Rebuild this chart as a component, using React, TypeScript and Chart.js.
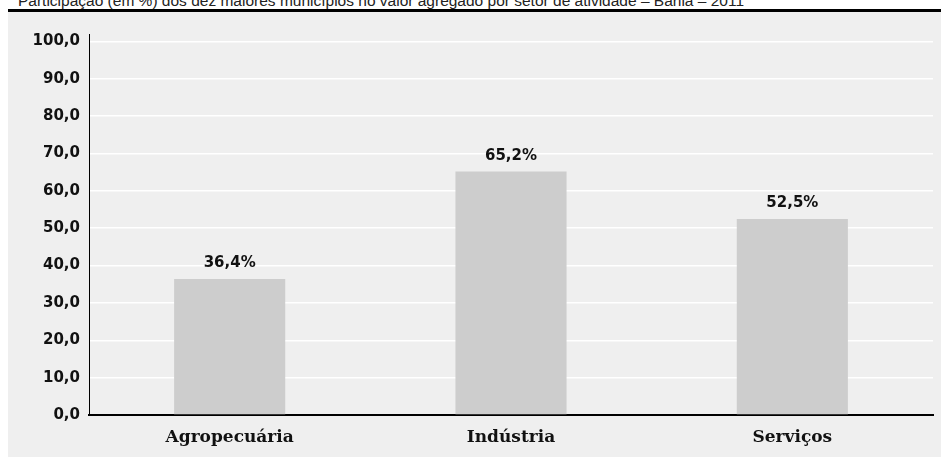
import React, { useEffect, useRef } from "react";
import { Chart, registerables } from "chart.js";

Chart.register(...registerables);

const titleText =
  "Participação (em %) dos dez maiores municípios no valor agregado por setor de atividade – Bahia – 2011";
const categories = ["Agropecuária", "Indústria", "Serviços"];
const values = [36.4, 65.2, 52.5];
const yTickValues = [0, 10, 20, 30, 40, 50, 60, 70, 80, 90, 100];

const fmt = (v: number) => v.toFixed(1).replace(".", ",");

const labelPlugin = {
  id: "barLabels",
  afterDatasetsDraw(chart: any) {
    const ctx = chart.ctx;
    const meta = chart.getDatasetMeta(0);
    ctx.save();
    ctx.font = "bold 15px 'DejaVu Sans'";
    ctx.fillStyle = "#111";
    ctx.textAlign = "center";
    ctx.textBaseline = "bottom";
    meta.data.forEach((bar: any, i: number) => {
      ctx.fillText(fmt(values[i]) + "%", bar.x, bar.y - 8);
    });
    ctx.restore();
  },
};

export default function App() {
  const ref = useRef<HTMLCanvasElement | null>(null);
  useEffect(() => {
    if (!ref.current) return;
    const chart = new Chart(ref.current, {
      type: "bar",
      data: {
        labels: categories,
        datasets: [
          {
            data: values,
            backgroundColor: "#cdcdcd",
            borderWidth: 0,
            barPercentage: 0.79,
            categoryPercentage: 0.5,
          },
        ],
      },
      options: {
        responsive: false,
        animation: false,
        devicePixelRatio: 1,
        layout: { padding: { top: 22, right: 8, left: 0, bottom: 0 } },
        plugins: {
          legend: { display: false },
          tooltip: { enabled: false },
          title: { display: false },
        },
        scales: {
          x: {
            grid: { display: false, drawTicks: false },
            border: { display: true, color: "#000", width: 2 },
            ticks: {
              color: "#111",
              font: { family: "'DejaVu Serif'", size: 17, weight: "bold" },
              padding: 12,
            },
            afterFit(scale: any) {
              scale.height = 42;
            },
          },
          y: {
            min: 0,
            max: 102,
            grid: { color: "#ffffff", lineWidth: 1.5, drawTicks: false },
            border: { display: true, color: "#000", width: 1 },
            afterBuildTicks(scale: any) {
              scale.ticks = yTickValues.map((v) => ({ value: v }));
            },
            ticks: {
              color: "#111",
              font: { family: "'DejaVu Sans'", size: 15, weight: "bold" },
              padding: 9,
              callback: (v: any) => fmt(Number(v)),
            },
            afterFit(scale: any) {
              scale.width = 81;
            },
          },
        },
      },
      plugins: [labelPlugin],
    });
    return () => chart.destroy();
  }, []);

  return (
    <div style={{ position: "fixed", left: 0, top: 0, width: 941, height: 460, overflow: "hidden", background: "#fff" }}>
      <div
        style={{
          position: "absolute",
          left: 18,
          top: -7,
          whiteSpace: "nowrap",
          fontFamily: "'Liberation Sans', Arial, sans-serif",
          fontSize: 15.5,
          lineHeight: "16px",
          color: "#222",
        }}
      >
        {titleText}
      </div>
      <div style={{ position: "absolute", left: 8, top: 9, width: 933, height: 3, background: "#000" }} />
      <div style={{ position: "absolute", left: 8, top: 12, width: 933, height: 445, background: "#efefef" }}>
        <canvas ref={ref} width={933} height={445} style={{ display: "block", width: 933, height: 445 }} />
      </div>
    </div>
  );
}
